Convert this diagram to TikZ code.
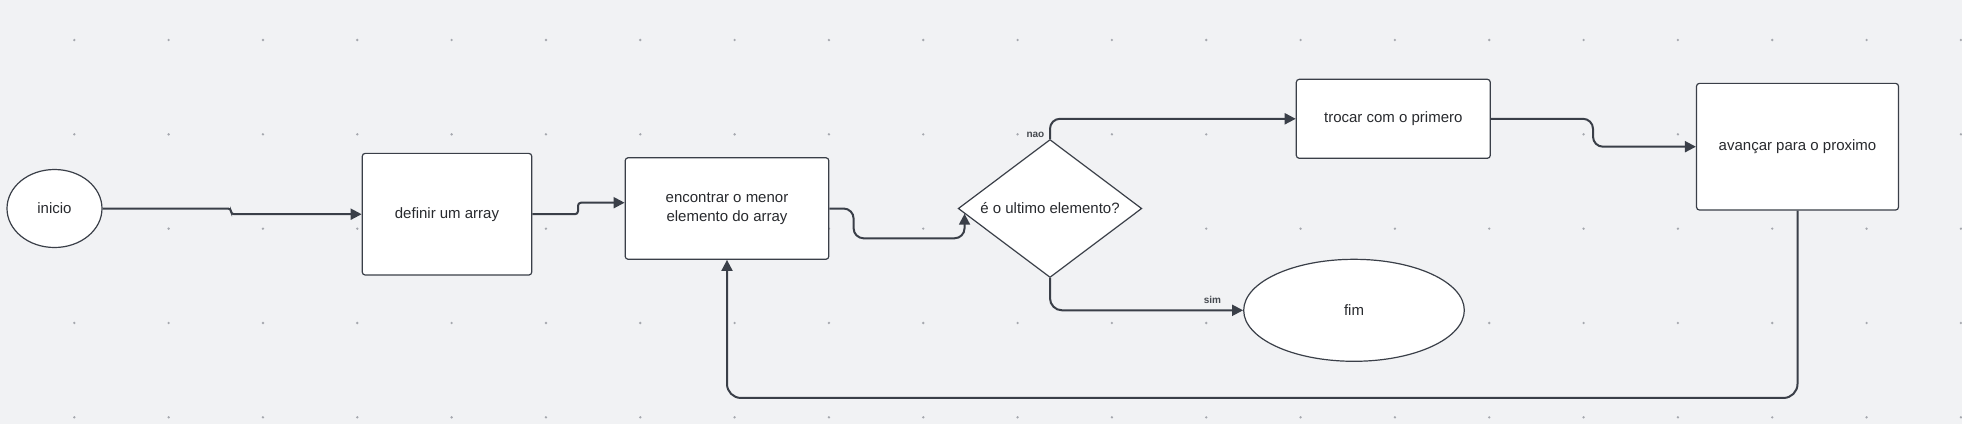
\documentclass[tikz,border=0pt]{standalone}
\usepackage{fontspec}
\setmainfont{Liberation Sans}
\usetikzlibrary{shapes.geometric,arrows.meta,calc}
\definecolor{bgc}{RGB}{241,242,244}
\definecolor{dotc}{RGB}{165,168,174}
\definecolor{linec}{RGB}{58,63,72}
\definecolor{txtc}{RGB}{40,42,46}
\definecolor{lblc}{RGB}{70,74,80}
\tikzset{
  box/.style={draw=linec, line width=1.2pt, fill=white, rounded corners=3pt, inner sep=0pt,
    font=\fontsize{15}{19}\selectfont, text=txtc, align=center},
  oval/.style={ellipse, draw=linec, line width=1.2pt, fill=white, inner sep=0pt,
    font=\fontsize{15}{19}\selectfont, text=txtc},
  decision/.style={diamond, aspect=1.33, draw=linec, line width=1.2pt, fill=white, inner sep=0pt,
    font=\fontsize{15}{19}\selectfont, text=txtc},
  conn/.style={draw=linec, line width=2pt, -{Triangle[length=11pt,width=11pt]}},
  lbl/.style={font=\bfseries\fontsize{10}{12}\selectfont, text=lblc, inner sep=0pt}
}
\begin{document}
\begin{tikzpicture}[x=1pt,y=-1pt]
\useasboundingbox (0,0) rectangle (1962,424);
\fill[bgc] (0,0) rectangle (1962,424);
\foreach \i in {0,...,20} {
  \foreach \j in {0,...,4} {
    \fill[dotc] ({74.3+94.33*\i},{40+94.33*\j}) circle (1.3);
  }
}
% nodes
\node[oval, minimum width=95pt, minimum height=78pt] (inicio) at (54.5,208.5) {inicio};
\node[box, minimum width=169.5pt, minimum height=121.7pt] (definir) at (447,214.2) {definir um array};
\node[box, minimum width=203.6pt, minimum height=101.6pt] (encontrar) at (727,208.5) {encontrar o menor\\elemento do array};
\node[decision, minimum width=183.6pt, minimum height=138pt] (decisao) at (1050,208.5) {é o ultimo elemento?};
\node[box, minimum width=194pt, minimum height=79pt] (trocar) at (1393.3,118.8) {trocar com o primero};
\node[box, minimum width=202pt, minimum height=126.7pt] (avancar) at (1797.5,146.7) {avançar para o proximo};
\node[oval, minimum width=220.6pt, minimum height=102pt] (fim) at (1354,310.3) {fim};
% labels
\node[lbl, anchor=east] (nao) at (1044.5,134.5) {nao};
\node[lbl] (sim) at (1212.4,300) {sim};
% connectors
\draw[conn, rounded corners=3pt] (inicio.east) -| (231,214.2) -- (definir.west);
\draw[conn, rounded corners=3pt] (definir.east) -| (578,202.7) -- ($(encontrar.west)+(0,-5.8)$);
\coordinate (dtip) at ($(decisao.west)!0.075!(decisao.south)$);
\draw[conn, rounded corners=10pt] (encontrar.east) -| (853.6,238.3) -| (dtip);
\draw[conn, rounded corners=10pt] (decisao.north) |- (trocar.west);
\draw[conn, rounded corners=12pt] (decisao.south) |- (fim.west);
\draw[conn, rounded corners=10pt] (trocar.east) -| (1593,146.7) -- (avancar.west);
\draw[conn, rounded corners=14pt] (avancar.south) -- ++(0,187.3) -| (encontrar.south);
\end{tikzpicture}
\end{document}
